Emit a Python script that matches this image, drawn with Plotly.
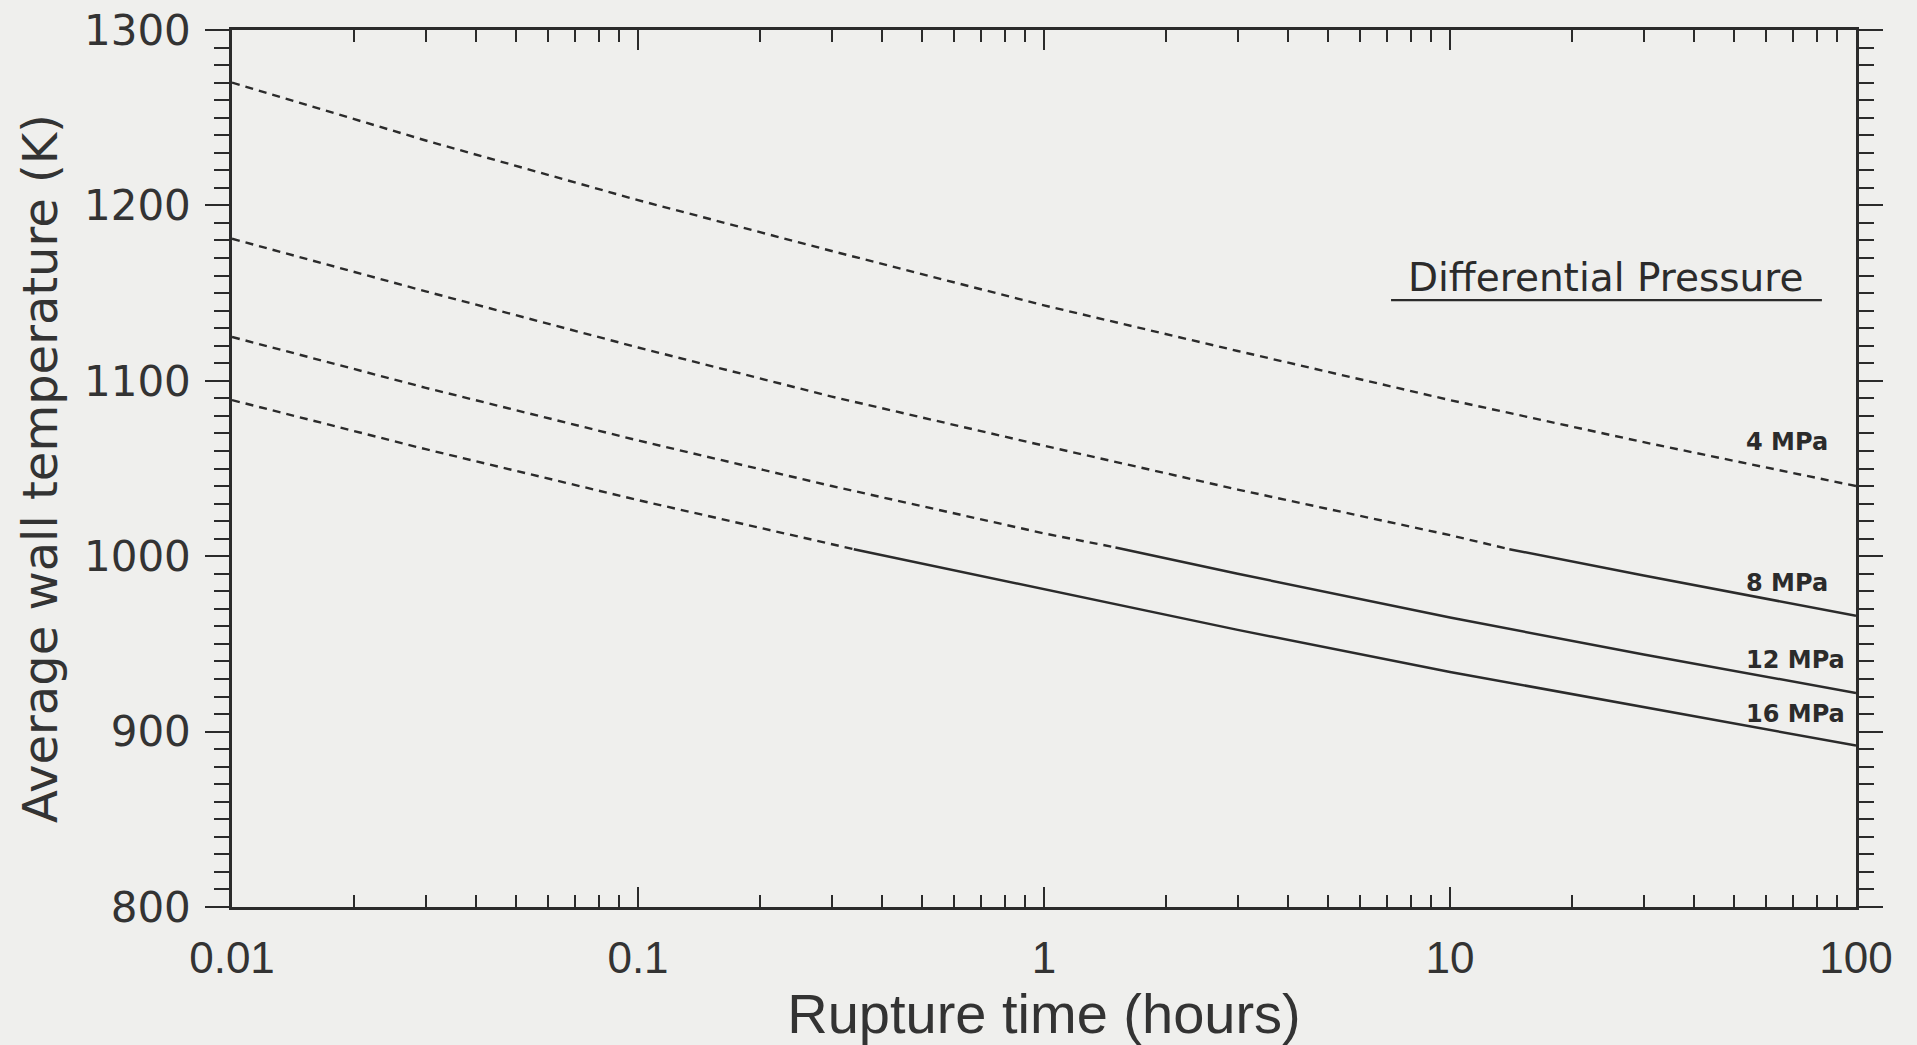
import math
import plotly.graph_objects as go

# ---- data ----
t_hours = [0.01, 0.03, 0.1, 0.3, 1, 3, 10, 30, 100]
temp_4mpa = [1270, 1237, 1203, 1174, 1143, 1117, 1089, 1065, 1040]
temp_8mpa = [1181, 1151, 1119, 1091, 1063, 1038, 1012, 989, 966]
temp_12mpa = [1125, 1096, 1066, 1040, 1013, 990, 965, 944, 922]
temp_16mpa = [1089, 1061, 1032, 1007, 981, 958, 934, 914, 892]

# point (hours, K) where each curve switches from dashed to solid
switch_4mpa = None
switch_8mpa = (14, 1004)
switch_12mpa = (1.5, 1005)
switch_16mpa = (0.34, 1004)

series_names = ["4 MPa", "8 MPa", "12 MPa", "16 MPa"]
series_temps = [temp_4mpa, temp_8mpa, temp_12mpa, temp_16mpa]
series_switch = [switch_4mpa, switch_8mpa, switch_12mpa, switch_16mpa]
label_x = 53
label_y = [1065, 985, 941, 910]

x_tickvals = [0.01, 0.1, 1, 10, 100]
x_ticktext = ["0.01", "0.1", "1", "10", "100"]
x_minor = [k * 10 ** e for e in range(-2, 2) for k in range(2, 10)]
y_tickvals = [800, 900, 1000, 1100, 1200, 1300]

INK = "#2b2b2b"
TXT = "#333333"
BG = "#efefed"


def split(ts, Ts, sw):
    if sw is None:
        return (ts, Ts), None
    st, sT = sw
    d_t = [t for t in ts if t < st] + [st]
    d_T = [T for t, T in zip(ts, Ts) if t < st] + [sT]
    s_t = [st] + [t for t in ts if t > st]
    s_T = [sT] + [T for t, T in zip(ts, Ts) if t > st]
    return (d_t, d_T), (s_t, s_T)


fig = go.Figure()
for name, temps, sw in zip(series_names, series_temps, series_switch):
    dashed, solid = split(t_hours, temps, sw)
    fig.add_trace(go.Scatter(x=dashed[0], y=dashed[1], mode="lines", name=name,
                             line=dict(color=INK, width=2.4, dash="8px,6px"),
                             showlegend=False))
    if solid is not None:
        fig.add_trace(go.Scatter(x=solid[0], y=solid[1], mode="lines", name=name,
                                 line=dict(color=INK, width=2.5),
                                 showlegend=False))

for name, ly in zip(series_names, label_y):
    fig.add_annotation(x=math.log10(label_x), y=ly, xref="x", yref="y",
                       text="<b>" + name + "</b>",
                       showarrow=False, xanchor="left", yanchor="middle",
                       font=dict(family="DejaVu Sans", size=24, color=INK))

fig.add_annotation(x=0.8455, y=0.718, xref="paper", yref="paper",
                   text="Differential Pressure", showarrow=False,
                   xanchor="center", yanchor="middle",
                   font=dict(family="DejaVu Sans", size=39, color=INK))
fig.add_shape(type="line", xref="paper", yref="paper", x0=0.7137, x1=0.979,
              y0=0.692, y1=0.692, line=dict(color=INK, width=2.4))

fig.update_xaxes(
    type="log", range=[-2, 2],
    tickmode="array", tickvals=x_tickvals, ticktext=x_ticktext,
    ticks="inside", ticklen=20, tickwidth=2, tickcolor=INK,
    minor=dict(tickmode="array", tickvals=x_minor, ticks="inside", ticklen=12,
               tickwidth=2, tickcolor=INK, showgrid=False),
    showline=True, linecolor=INK, linewidth=2.5, mirror="ticks",
    showgrid=False, zeroline=False,
    tickfont=dict(family="Liberation Sans Narrow, Liberation Sans", size=44, color=TXT),
    ticklabelstandoff=10,
    title=dict(text="Rupture time (hours)", standoff=8,
               font=dict(family="Liberation Sans Narrow, Liberation Sans", size=56, color=TXT)),
)
fig.update_yaxes(
    range=[800, 1300],
    tickmode="array", tickvals=y_tickvals,
    ticks="outside", ticklen=24, tickwidth=2, tickcolor=INK,
    minor=dict(dtick=10, ticks="outside", ticklen=15, tickwidth=2, tickcolor=INK, showgrid=False),
    showline=True, linecolor=INK, linewidth=2.5, mirror="ticks",
    showgrid=False, zeroline=False,
    tickfont=dict(family="DejaVu Sans", size=42, color=TXT),
    ticklabelstandoff=6,
    title=dict(text="Average wall temperature (K)", standoff=12,
               font=dict(family="DejaVu Sans", size=48, color=TXT)),
)

fig.update_layout(
    width=1917, height=1045,
    margin=dict(l=232, r=61, t=30, b=138, autoexpand=False),
    paper_bgcolor=BG, plot_bgcolor=BG,
    showlegend=False,
)

fig.write_html("out.html")
